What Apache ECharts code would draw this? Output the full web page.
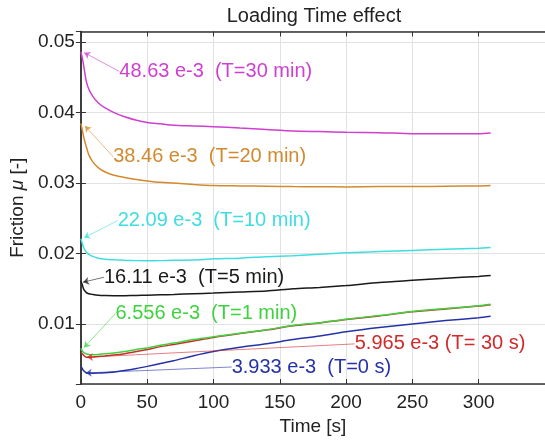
<!DOCTYPE html>
<html>
<head>
<meta charset="utf-8">
<script src="https://cdn.jsdelivr.net/npm/echarts@6/dist/echarts.min.js"></script>
<style>
  html, body { margin: 0; padding: 0; background: #fff; }
  #chart { width: 545px; height: 441px; }
</style>
</head>
<body>
<div id="chart"></div>
<script>
// time axis (s)
const time = [0, 1, 2, 4, 6, 9, 13, 18, 25, 33, 42, 50, 60, 70, 85, 100, 120, 140, 160, 180, 200, 225, 250, 275, 300, 309];

// friction values for each loading time
const mu30min = [0.04863, 0.0478, 0.0468, 0.0445, 0.0433, 0.0423, 0.0414, 0.0407, 0.0400, 0.0394, 0.0389, 0.0386, 0.0384, 0.0382, 0.0381, 0.0380, 0.0378, 0.0376, 0.0374, 0.0373, 0.0372, 0.03715, 0.0370, 0.0370, 0.0370, 0.0371];
const mu20min = [0.03846, 0.0376, 0.0366, 0.0352, 0.0340, 0.0330, 0.0322, 0.0316, 0.0311, 0.0308, 0.0305, 0.0303, 0.0301, 0.0300, 0.0298, 0.02965, 0.0296, 0.02955, 0.0295, 0.02948, 0.02945, 0.0295, 0.0295, 0.02955, 0.0296, 0.02965];
const mu10min = [0.02209, 0.0215, 0.0209, 0.0202, 0.0199, 0.0196, 0.01935, 0.0192, 0.01912, 0.01905, 0.0190, 0.01898, 0.0190, 0.01905, 0.0191, 0.01925, 0.01935, 0.01955, 0.0197, 0.0199, 0.0201, 0.0203, 0.02045, 0.0206, 0.02075, 0.02085];
const mu5min = [0.01611, 0.0156, 0.0150, 0.0145, 0.0143, 0.0142, 0.0141, 0.01405, 0.01403, 0.01403, 0.01405, 0.0141, 0.01415, 0.0142, 0.0143, 0.0144, 0.01455, 0.0147, 0.0150, 0.0152, 0.01547, 0.0159, 0.0162, 0.0165, 0.01675, 0.01688];
const mu30s = [0.005965, 0.0058, 0.0056, 0.0053, 0.0053, 0.00532, 0.0054, 0.00548, 0.0056, 0.0058, 0.0061, 0.0064, 0.0068, 0.0071, 0.0076, 0.0081, 0.00865, 0.00915, 0.00975, 0.01015, 0.01065, 0.01115, 0.01175, 0.01215, 0.01255, 0.01275];
const mu1min = [0.006556, 0.0062, 0.0060, 0.0058, 0.00568, 0.00565, 0.00568, 0.00578, 0.0059, 0.0061, 0.0064, 0.0066, 0.0070, 0.0073, 0.0078, 0.0082, 0.0087, 0.0092, 0.0098, 0.0102, 0.0107, 0.0112, 0.0118, 0.0122, 0.0126, 0.0128];
const mu0s = [0.003933, 0.0037, 0.0034, 0.0031, 0.00305, 0.00303, 0.00305, 0.0031, 0.0032, 0.00342, 0.0037, 0.0040, 0.0044, 0.0048, 0.0055, 0.0061, 0.0067, 0.0072, 0.0078, 0.0083, 0.0089, 0.0095, 0.0100, 0.0105, 0.0109, 0.0111];

// annotations: text, text anchor [t, mu], arrow tip [t, mu]
const annoText = ['48.63 e-3  (T=30 min)', '38.46 e-3  (T=20 min)', '22.09 e-3  (T=10 min)', '16.11 e-3  (T=5 min)', '5.965 e-3 (T= 30 s)', '6.556 e-3  (T=1 min)', '3.933 e-3  (T=0 s)'];
const annoAt = [[29, 0.04583], [24.4, 0.03372], [27.8, 0.02468], [17.4, 0.01664], [206.5, 0.00719], [26.1, 0.01149], [113.7, 0.00391]];
const annoTip = [[2.5, 0.0485], [3.1, 0.0381], [2.4, 0.02225], [1.6, 0.01594], [4.5, 0.0053], [2.4, 0.00667], [3.6, 0.00307]];

const seriesVals = [mu30min, mu20min, mu10min, mu5min, mu30s, mu1min, mu0s];
const colors = ['#cf3fd0', '#d38a2e', '#3fdde0', '#1a1a1a', '#d02a2a', '#3fd23f', '#2633a8'];

const font = 'Liberation Sans, Arial, Helvetica, sans-serif';
const chart = echarts.init(document.getElementById('chart'));

const series = seriesVals.map((vals, i) => ({
    type: 'line',
    data: time.map((t, j) => [t, vals[j]]),
    showSymbol: false,
    smooth: 0.25,
    lineStyle: { color: colors[i], width: 1.5 },
    itemStyle: { color: colors[i] },
    z: 3,
    markLine: {
        silent: true,
        symbol: ['none', 'arrow'],
        symbolSize: 6,
        label: { show: false },
        lineStyle: { color: colors[i], width: 0.8, type: 'solid', opacity: 0.75 },
        data: [[{ coord: annoAt[i] }, { coord: annoTip[i] }]]
    },
    markPoint: {
        silent: true,
        symbol: 'circle',
        symbolSize: 0,
        label: {
            show: true,
            position: 'right',
            distance: 0,
            formatter: annoText[i],
            color: colors[i],
            fontFamily: font,
            fontSize: 20
        },
        data: [{ coord: annoAt[i] }]
    }
}));

chart.setOption({
    animation: false,
    backgroundColor: '#fff',
    title: {
        text: 'Loading Time effect',
        left: 314,
        textAlign: 'center',
        top: 6,
        padding: 0,
        textStyle: { fontFamily: font, fontSize: 20, fontWeight: 'normal', color: '#222' }
    },
    grid: { left: 78.5, top: 31.5, right: -5, bottom: 53.5 },
    xAxis: [{
        type: 'value',
        min: 0,
        max: 350,
        interval: 50,
        name: 'Time [s]',
        nameLocation: 'middle',
        nameGap: 33,
        nameTextStyle: { fontFamily: font, fontSize: 19, color: '#222' },
        axisLine: { show: true, lineStyle: { color: '#333', width: 1.5 } },
        axisTick: { show: true, inside: true, length: 5, lineStyle: { color: '#333' } },
        axisLabel: { fontFamily: font, fontSize: 19, color: '#222', margin: 9, showMaxLabel: false },
        splitLine: { show: true, lineStyle: { color: '#e2e2e2', width: 1 } }
    }, {
        type: 'value',
        position: 'top',
        min: 0,
        max: 350,
        interval: 50,
        axisLine: { show: true, lineStyle: { color: '#333', width: 1.5 } },
        axisTick: { show: true, inside: true, length: 5, lineStyle: { color: '#333' } },
        axisLabel: { show: false },
        splitLine: { show: false }
    }],
    yAxis: [{
        type: 'value',
        min: 0.0015,
        max: 0.0515,
        splitNumber: 5,
        name: '{a|Friction }{m|μ}{a| [-]}',
        nameLocation: 'middle',
        nameGap: 45,
        nameTextStyle: {
            rich: {
                a: { fontFamily: font, fontSize: 19, color: '#222' },
                m: { fontFamily: font, fontSize: 19, color: '#222', fontStyle: 'italic' }
            }
        },
        axisLine: { show: true, lineStyle: { color: '#333', width: 1.5 } },
        axisTick: { show: true, inside: true, length: 5, lineStyle: { color: '#333' } },
        axisLabel: {
            fontFamily: font, fontSize: 19, color: '#222', margin: 6,
            showMinLabel: false, showMaxLabel: false,
            formatter: v => String(Math.round(v * 100) / 100)
        },
        splitLine: { show: true, lineStyle: { color: '#e2e2e2', width: 1 } }
    }, {
        type: 'value',
        position: 'right',
        min: 0.0015,
        max: 0.0515,
        splitNumber: 5,
        axisLine: { show: true, lineStyle: { color: '#333', width: 1.5 } },
        axisTick: { show: true, inside: true, length: 5, lineStyle: { color: '#333' } },
        axisLabel: { show: false },
        splitLine: { show: false }
    }],
    series: series
});
</script>
</body>
</html>
